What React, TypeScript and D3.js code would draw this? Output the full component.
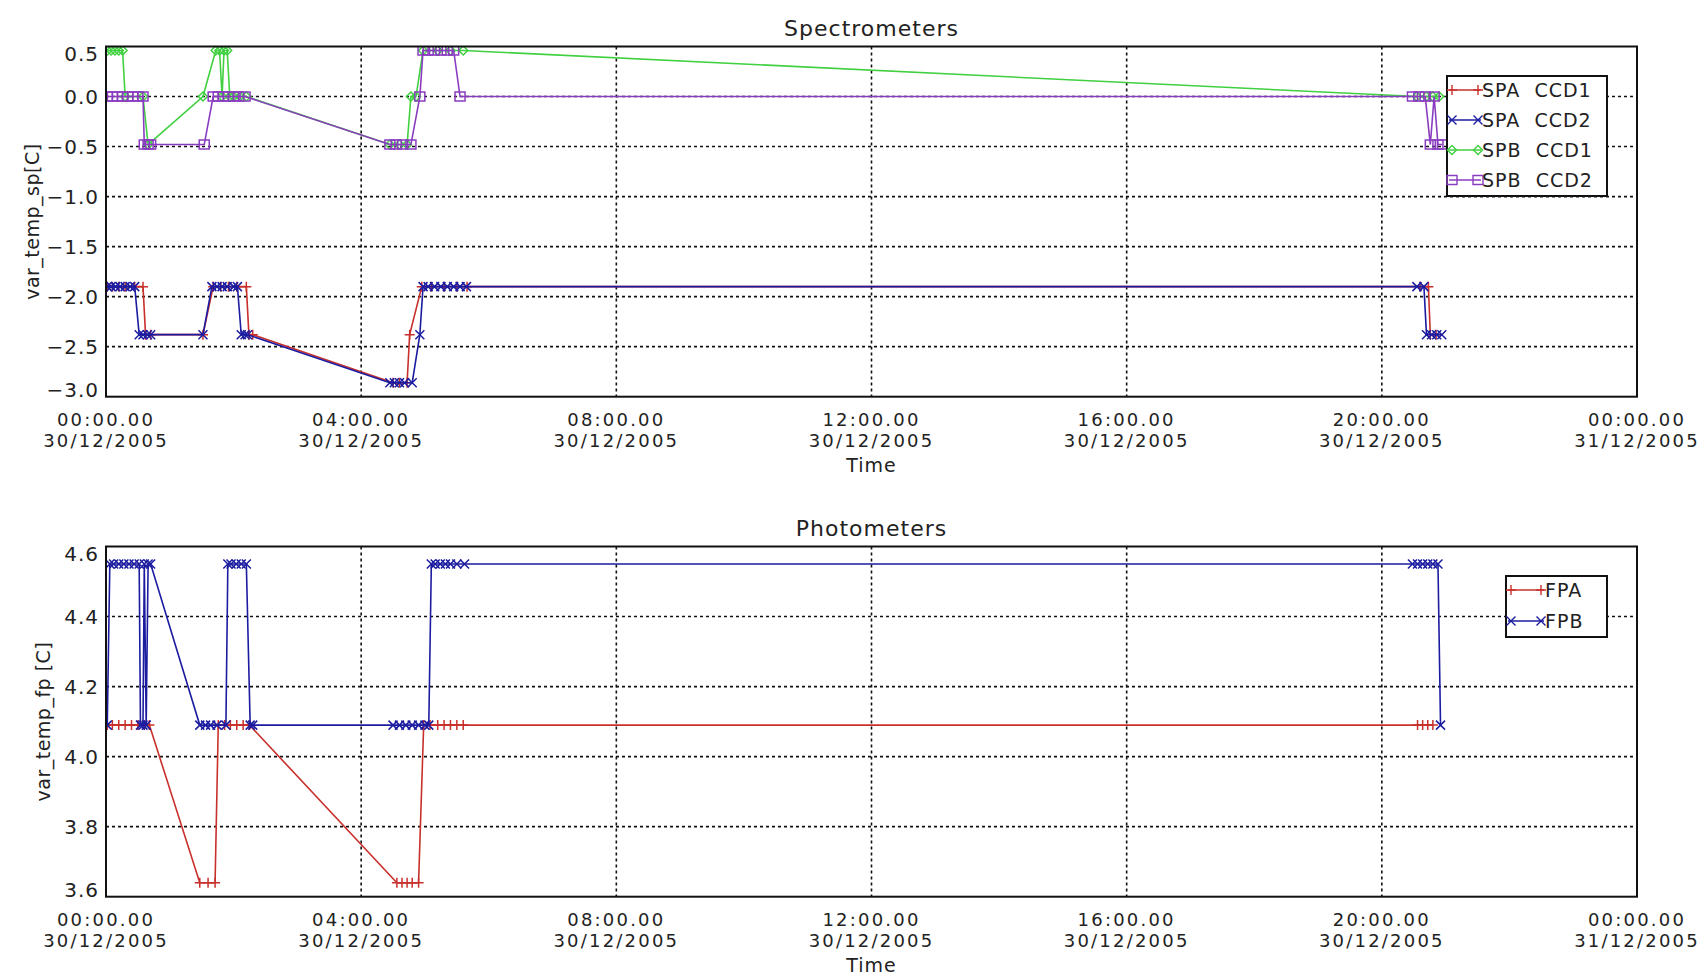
import React, { useEffect, useRef } from 'react'
import * as d3 from 'd3'

// hours after 00:00 30/12/2005, value in C
const spaCcd1: [number, number][] = [
    [0.02, -1.9], [0.1, -1.9], [0.2, -1.9], [0.3, -1.9], [0.45, -1.9], [0.58, -1.9], [0.62, -2.38], [0.7, -2.38],
    [1.52, -2.38], [1.68, -1.9], [1.8, -1.9], [1.92, -1.9], [2.05, -1.9], [2.2, -1.9], [2.24, -2.38], [2.3, -2.38],
    [4.5, -2.86], [4.6, -2.86], [4.72, -2.86], [4.76, -2.38], [4.95, -1.9], [5.1, -1.9], [5.3, -1.9], [5.5, -1.9],
    [5.66, -1.9], [20.6, -1.9], [20.73, -1.9], [20.76, -2.38], [20.85, -2.38]
]
const spaCcd2: [number, number][] = [
    [0.02, -1.9], [0.08, -1.9], [0.15, -1.9], [0.22, -1.9], [0.3, -1.9], [0.38, -1.9], [0.45, -1.9], [0.52, -2.38],
    [0.58, -2.38], [0.65, -2.38], [0.7, -2.38], [1.52, -2.38], [1.66, -1.9], [1.74, -1.9], [1.82, -1.9], [1.9, -1.9],
    [2.0, -1.9], [2.06, -1.9], [2.12, -2.38], [2.18, -2.38], [2.22, -2.38], [4.45, -2.86], [4.52, -2.86], [4.6, -2.86],
    [4.68, -2.86], [4.8, -2.86], [4.92, -2.38], [4.97, -1.9], [5.05, -1.9], [5.15, -1.9], [5.25, -1.9], [5.35, -1.9],
    [5.45, -1.9], [5.55, -1.9], [5.65, -1.9], [20.55, -1.9], [20.66, -1.9], [20.7, -2.38], [20.78, -2.38], [20.86, -2.38],
    [20.94, -2.38]
]
const spbCcd1: [number, number][] = [
    [0.02, 0.46], [0.08, 0.46], [0.14, 0.46], [0.2, 0.46], [0.26, 0.46], [0.3, 0.0], [0.58, 0.0], [0.66, -0.48],
    [1.52, 0.0], [1.72, 0.46], [1.78, 0.46], [1.82, 0.0], [1.85, 0.46], [1.9, 0.46], [1.94, 0.0], [2.0, 0.0],
    [2.1, 0.0], [2.2, 0.0], [4.45, -0.48], [4.6, -0.48], [4.72, -0.48], [4.78, 0.0], [4.86, 0.0], [4.97, 0.46],
    [5.2, 0.46], [5.4, 0.46], [5.6, 0.46], [20.55, 0.0], [20.7, 0.0], [20.8, 0.0], [20.9, 0.0]
]
const spbCcd2: [number, number][] = [
    [0.02, 0.0], [0.1, 0.0], [0.18, 0.0], [0.26, 0.0], [0.34, 0.0], [0.42, 0.0], [0.5, 0.0], [0.58, 0.0],
    [0.6, -0.48], [0.66, -0.48], [0.7, -0.48], [1.54, -0.48], [1.68, 0.0], [1.76, 0.0], [1.84, 0.0], [1.92, 0.0],
    [2.0, 0.0], [2.08, 0.0], [2.18, 0.0], [4.45, -0.48], [4.55, -0.48], [4.65, -0.48], [4.78, -0.48], [4.92, 0.0],
    [4.97, 0.46], [5.05, 0.46], [5.15, 0.46], [5.25, 0.46], [5.35, 0.46], [5.45, 0.46], [5.55, 0.0], [20.48, 0.0],
    [20.58, 0.0], [20.68, 0.0], [20.76, -0.48], [20.82, 0.0], [20.88, -0.48], [20.95, -0.48]
]
const fpa: [number, number][] = [
    [0.02, 4.09], [0.1, 4.09], [0.2, 4.09], [0.3, 4.09], [0.4, 4.09], [0.5, 4.09], [0.6, 4.09], [0.68, 4.09],
    [1.47, 3.64], [1.6, 3.64], [1.71, 3.64], [1.76, 4.09], [1.86, 4.09], [1.95, 4.09], [2.05, 4.09], [2.15, 4.09],
    [2.25, 4.09], [4.56, 3.64], [4.64, 3.64], [4.72, 3.64], [4.8, 3.64], [4.9, 3.64], [4.98, 4.09], [5.08, 4.09],
    [5.2, 4.09], [5.3, 4.09], [5.4, 4.09], [5.5, 4.09], [5.6, 4.09], [20.56, 4.09], [20.64, 4.09], [20.72, 4.09],
    [20.8, 4.09]
]
const fpb: [number, number][] = [
    [0.02, 4.09], [0.06, 4.55], [0.12, 4.55], [0.2, 4.55], [0.28, 4.55], [0.36, 4.55], [0.44, 4.55], [0.52, 4.55],
    [0.54, 4.09], [0.58, 4.09], [0.6, 4.55], [0.63, 4.09], [0.66, 4.55], [0.7, 4.55], [1.47, 4.09], [1.56, 4.09],
    [1.64, 4.09], [1.74, 4.09], [1.88, 4.09], [1.91, 4.55], [1.96, 4.55], [2.04, 4.55], [2.12, 4.55], [2.2, 4.55],
    [2.26, 4.09], [2.3, 4.09], [4.5, 4.09], [4.6, 4.09], [4.7, 4.09], [4.8, 4.09], [4.9, 4.09], [5.0, 4.09],
    [5.06, 4.09], [5.1, 4.55], [5.16, 4.55], [5.24, 4.55], [5.32, 4.55], [5.4, 4.55], [5.5, 4.55], [5.62, 4.55],
    [20.48, 4.55], [20.56, 4.55], [20.64, 4.55], [20.72, 4.55], [20.8, 4.55], [20.88, 4.55], [20.92, 4.09]
]

const spTicks = [0.5, 0.0, -0.5, -1.0, -1.5, -2.0, -2.5, -3.0]
const fpTicks = [4.6, 4.4, 4.2, 4.0, 3.8, 3.6]
const timeTicksHours = [0, 4, 8, 12, 16, 20, 24]
const spNames = ['SPA CCD1', 'SPA CCD2', 'SPB CCD1', 'SPB CCD2']
const fpNames = ['FPA', 'FPB']

const START = Date.UTC(2005, 11, 30)
const FONT = '"DejaVu Sans", sans-serif'

const markers: { [k: string]: string } = {
    plus: 'M-5,0H5M0,-5V5',
    cross: 'M-4.5,-4.5L4.5,4.5M-4.5,4.5L4.5,-4.5',
    diamond: 'M0,-4.5L4.5,0L0,4.5L-4.5,0Z',
    square: 'M-5,-4.5H5V4.5H-5Z'
}

export default function App() {
    const ref = useRef<SVGSVGElement>(null)

    useEffect(() => {
        const svg = d3.select(ref.current)
        svg.selectAll('*').remove()

        const left = 106, right = 1637
        const x = d3.scaleUtc()
            .domain([new Date(START), new Date(START + 24 * 3600e3)])
            .range([left, right])
        const toDate = (h: number) => new Date(START + h * 3600e3)
        const fmtTime = d3.utcFormat('%H:%M.%S')
        const fmtDay = d3.utcFormat('%d/%m/%Y')

        const drawPanel = (opts: {
            top: number, bottom: number, domain: [number, number], ticks: number[],
            title: string, ylabel: string, ylabelX: number, id: string,
            series: { data: [number, number][], color: string, marker: string, name: string }[],
            legend: { x0: number, x1: number, y0: number, y1: number, lineEnd: number, rows: number[] }
        }) => {
            const { top, bottom } = opts
            const y = d3.scaleLinear().domain(opts.domain).range([bottom, top])
            const g = svg.append('g')

            g.append('clipPath').attr('id', 'clip' + opts.id)
                .append('rect').attr('x', left).attr('y', top).attr('width', right - left).attr('height', bottom - top)

            // grid
            opts.ticks.filter(t => t !== opts.domain[0] && t !== opts.domain[1]).forEach(t => {
                g.append('line')
                    .attr('x1', left).attr('x2', right).attr('y1', y(t)).attr('y2', y(t))
                    .attr('stroke', '#111').attr('stroke-width', 1.6).attr('stroke-dasharray', '3,3')
            })
            timeTicksHours.filter(h => h > 0 && h < 24).forEach(h => {
                g.append('line')
                    .attr('x1', x(toDate(h))).attr('x2', x(toDate(h))).attr('y1', top).attr('y2', bottom)
                    .attr('stroke', '#111').attr('stroke-width', 1.6).attr('stroke-dasharray', '3,3')
            })

            // data
            const line = d3.line<[number, number]>().x(d => x(toDate(d[0]))).y(d => y(d[1]))
            const dg = g.append('g').attr('clip-path', 'url(#clip' + opts.id + ')')
            opts.series.forEach(s => {
                dg.append('path').attr('d', line(s.data)).attr('fill', 'none')
                    .attr('stroke', s.color).attr('stroke-width', 1.6)
                dg.selectAll(null).data(s.data).enter().append('path')
                    .attr('d', markers[s.marker])
                    .attr('transform', d => `translate(${x(toDate(d[0]))},${y(d[1])})`)
                    .attr('fill', 'none').attr('stroke', s.color).attr('stroke-width', 1.5)
            })

            // frame
            g.append('rect').attr('x', left).attr('y', top).attr('width', right - left).attr('height', bottom - top)
                .attr('fill', 'none').attr('stroke', '#111').attr('stroke-width', 2)

            // y tick labels
            opts.ticks.forEach((t, i) => {
                let shift = 0
                if (i === 0) shift = 7
                if (i === opts.ticks.length - 1) shift = -7
                g.append('text').attr('x', 99).attr('y', y(t) + shift + 7)
                    .attr('text-anchor', 'end').style('font', `20px ${FONT}`).style('letter-spacing', '1px')
                    .attr('fill', '#222')
                    .text(d3.format('.1f')(t).replace('-', '\u2212'))
            })

            // x tick labels
            timeTicksHours.forEach(h => {
                const tx = x(toDate(h))
                g.append('text').attr('text-anchor', 'middle').attr('x', tx).attr('y', bottom + 29)
                    .style('font', `18px ${FONT}`).style('letter-spacing', '2.2px').attr('fill', '#222')
                    .text(fmtTime(toDate(h)))
                g.append('text').attr('text-anchor', 'middle').attr('x', tx).attr('y', bottom + 50)
                    .style('font', `18px ${FONT}`).style('letter-spacing', '2.2px').attr('fill', '#222')
                    .text(fmtDay(toDate(h)))
            })
            g.append('text').attr('x', x(toDate(12))).attr('y', bottom + 75).attr('text-anchor', 'middle')
                .style('font', `19px ${FONT}`).style('letter-spacing', '1px').attr('fill', '#222').text('Time')

            // title and y label
            g.append('text').attr('x', (left + right) / 2).attr('y', top - 11).attr('text-anchor', 'middle')
                .style('font', `22px ${FONT}`).style('letter-spacing', '1px').attr('fill', '#222').text(opts.title)
            g.append('text')
                .attr('transform', `translate(${opts.ylabelX},${(top + bottom) / 2}) rotate(-90)`)
                .attr('text-anchor', 'middle').attr('dy', '0.35em')
                .style('font', `19px ${FONT}`).style('letter-spacing', '0.5px').attr('fill', '#222').text(opts.ylabel)

            // legend
            const lg = opts.legend
            g.append('rect').attr('x', lg.x0).attr('y', lg.y0).attr('width', lg.x1 - lg.x0).attr('height', lg.y1 - lg.y0)
                .attr('fill', 'white').attr('stroke', '#111').attr('stroke-width', 2)
            opts.series.forEach((s, i) => {
                const ry = lg.rows[i]
                g.append('line').attr('x1', lg.x0 + 2).attr('x2', lg.lineEnd).attr('y1', ry).attr('y2', ry)
                    .attr('stroke', s.color).attr('stroke-width', 1.5)
                ;[lg.x0 + 5, lg.lineEnd - 3].forEach(mx => {
                    g.append('path').attr('d', markers[s.marker]).attr('transform', `translate(${mx},${ry})`)
                        .attr('fill', 'none').attr('stroke', s.color).attr('stroke-width', 1.4)
                })
                g.append('text').attr('x', lg.lineEnd + 1).attr('y', ry + 7)
                    .style('font', `19px ${FONT}`).style('letter-spacing', '1px').attr('fill', '#222')
                    .style('white-space', 'pre').text(s.name.replace(' ', '  '))
            })
        }

        drawPanel({
            top: 46.5, bottom: 396.7, domain: [-3.0, 0.5], ticks: spTicks,
            title: 'Spectrometers', ylabel: 'var_temp_sp[C]', ylabelX: 32, id: 'sp',
            series: [
                { data: spaCcd1, color: '#c8302c', marker: 'plus', name: spNames[0] },
                { data: spaCcd2, color: '#1c1ca0', marker: 'cross', name: spNames[1] },
                { data: spbCcd1, color: '#40d040', marker: 'diamond', name: spNames[2] },
                { data: spbCcd2, color: '#8a3cc0', marker: 'square', name: spNames[3] }
            ],
            legend: { x0: 1447, x1: 1607, y0: 76, y1: 196, lineEnd: 1481, rows: [90, 120, 150, 180] }
        })

        drawPanel({
            top: 546.5, bottom: 896.7, domain: [3.6, 4.6], ticks: fpTicks,
            title: 'Photometers', ylabel: 'var_temp_fp [C]', ylabelX: 43, id: 'fp',
            series: [
                { data: fpa, color: '#c8302c', marker: 'plus', name: fpNames[0] },
                { data: fpb, color: '#1c1ca0', marker: 'cross', name: fpNames[1] }
            ],
            legend: { x0: 1506, x1: 1607, y0: 576, y1: 637, lineEnd: 1544, rows: [590, 621] }
        })
    }, [])

    return (
        <svg ref={ref} width={1706} height={976}
            style={{ position: 'absolute', left: 0, top: 0, background: 'white' }} />
    )
}
